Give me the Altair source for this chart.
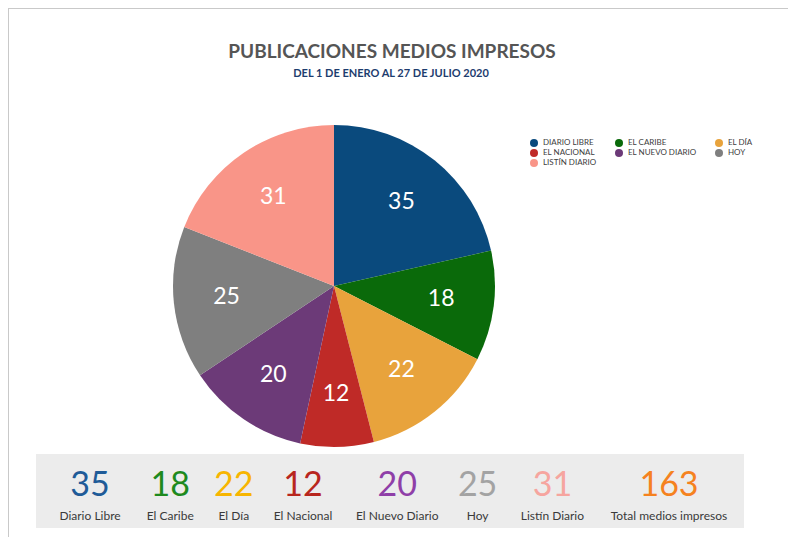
import altair as alt
import pandas as pd

# ---------------- data ----------------
title_text = "PUBLICACIONES MEDIOS IMPRESOS"
subtitle_text = "DEL 1 DE ENERO AL 27 DE JULIO 2020"
medios = ["Diario Libre", "El Caribe", "El Día", "El Nacional",
          "El Nuevo Diario", "Hoy", "Listín Diario"]
valores = [35, 18, 22, 12, 20, 25, 31]
pie_colors = ["#0a4a7d", "#0a6a0a", "#e8a33c", "#bf2a27",
              "#6c3a78", "#7f7f7f", "#f99588"]
band_colors = ["#1f5b98", "#1e8a1e", "#f7b500", "#b8261e",
               "#8f3fa8", "#a3a3a3", "#f6a59f", "#f5821f"]
total_label = "Total medios impresos"

# ---------------- layout ----------------
W, H = 780, 529
FONT = "Lato"
CX, CY, R = 326, 278, 161

pie_df = pd.DataFrame({"medio": medios, "valor": valores,
                       "idx": list(range(len(medios)))})

band_labels = medios + [total_label]
band_nums = valores + [sum(valores)]
# column centres derived from the width of each cell's text
widths = [max(len(l) * 5.6, len(str(n)) * 17) for l, n in zip(band_labels, band_nums)]
x_first, x_last = 82, 661
half = [(widths[i] + widths[i + 1]) / 2 for i in range(len(widths) - 1)]
gap = (x_last - x_first - sum(half)) / len(half)
pos = [x_first]
for h in half:
    pos.append(pos[-1] + h + gap)
band_df = pd.DataFrame({"label": band_labels, "num": [str(n) for n in band_nums],
                        "px": pos, "col": band_colors})

one = pd.DataFrame({"t": [title_text], "s": [subtitle_text]})

# ---------------- layers ----------------
frame_top = alt.Chart(one).mark_rule(color="#c9c9c9", strokeWidth=1).encode(
    x=alt.value(0), x2=alt.value(W), y=alt.value(0.5))
frame_left = alt.Chart(one).mark_rule(color="#c9c9c9", strokeWidth=1).encode(
    x=alt.value(0.5), y=alt.value(0), y2=alt.value(H))

title = alt.Chart(one).mark_text(font=FONT, fontSize=19, fontWeight="bold",
                                 color="#555555", align="center",
                                 baseline="alphabetic").encode(
    text="t:N", x=alt.value(384), y=alt.value(50))
subtitle = alt.Chart(one).mark_text(font=FONT, fontSize=11, fontWeight="bold",
                                    color="#1d3c6e", align="center",
                                    baseline="alphabetic").encode(
    text="s:N", x=alt.value(383), y=alt.value(69))

pie = alt.Chart(pie_df).mark_arc(outerRadius=R, stroke=None).encode(
    theta=alt.Theta("valor:Q", stack=True),
    order=alt.Order("idx:Q"),
    color=alt.Color("medio:N", scale=alt.Scale(domain=medios, range=pie_colors),
                    legend=alt.Legend(title=None, orient="none", legendX=522, legendY=131,
                                      direction="horizontal",
                                      columns=3, symbolType="circle", symbolSize=64,
                                      symbolStrokeWidth=0, labelFont=FONT, labelFontSize=8,
                                      labelColor="#404040", labelOffset=5,
                                      columnPadding=18, rowPadding=2,
                                      labelExpr="upper(datum.label)")),
    x=alt.value(CX), y=alt.value(CY))

pie_text = alt.Chart(pie_df).mark_text(radius=108, font=FONT, fontSize=23,
                                       color="white", align="center",
                                       baseline="middle").encode(
    theta=alt.Theta("valor:Q", stack=True),
    order=alt.Order("idx:Q"),
    text="valor:Q",
    x=alt.value(CX), y=alt.value(CY))

band = alt.Chart(one).mark_rect(color="#ececec").encode(
    x=alt.value(28), x2=alt.value(736), y=alt.value(446), y2=alt.value(520))

band_nums_l = alt.Chart(band_df).mark_text(font=FONT, fontSize=34,
                                           align="center",
                                           baseline="alphabetic").encode(
    x=alt.X("px:Q", scale=None), y=alt.value(488),
    text="num:N", fill=alt.Fill("col:N", scale=None))

band_labels_l = alt.Chart(band_df).mark_text(font=FONT, fontSize=12, align="center",
                                             baseline="alphabetic",
                                             color="#3a3a3a").encode(
    x=alt.X("px:Q", scale=None), y=alt.value(512), text="label:N")

chart = alt.layer(frame_top, frame_left, title, subtitle, pie, pie_text,
                  band, band_nums_l, band_labels_l).properties(
    width=W, height=H,
    autosize=alt.AutoSizeParams(type="none"),
    padding={"left": 0, "right": 0, "top": 0, "bottom": 0},
).configure_view(stroke=None)

chart.save("out.html", embed_options={"renderer": "svg", "actions": False})
